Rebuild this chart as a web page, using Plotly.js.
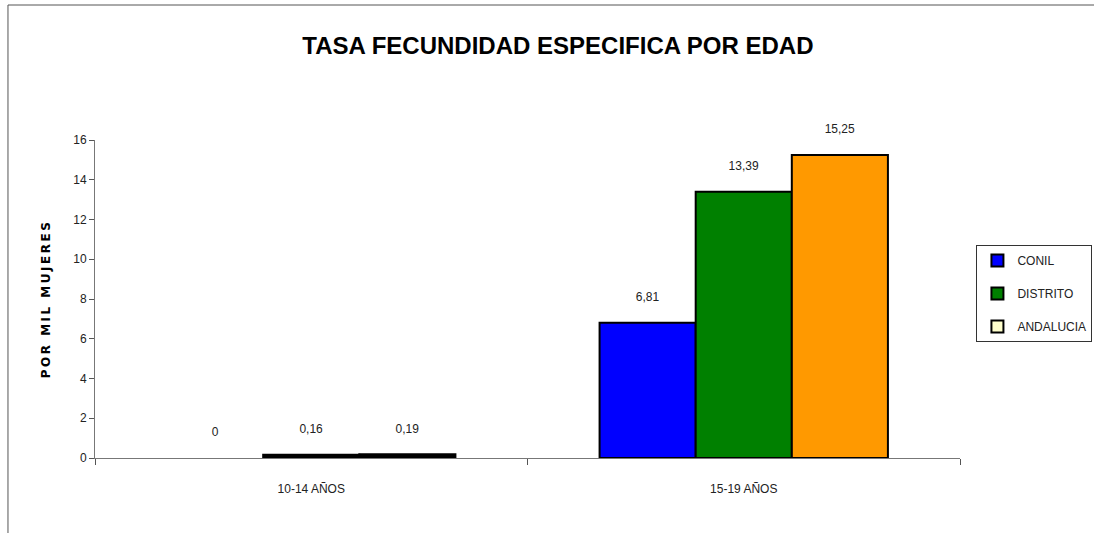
<!DOCTYPE html>
<html><head><meta charset="utf-8">
<script src="https://cdn.plot.ly/plotly-3.0.1.min.js"></script>
<style>html,body{margin:0;padding:0;background:#fff}#chart{width:1094px;height:533px}
.ytitle{letter-spacing:2.5px}</style>
</head><body><div id="chart"></div>
<script>
const categories = ["10-14 AÑOS", "15-19 AÑOS"];
const seriesNames = ["CONIL", "DISTRITO", "ANDALUCIA"];
const conil = [0, 6.81];
const distrito = [0.16, 13.39];
const andalucia = [0.19, 15.25];
const barColors = ["#0000FF", "#008000", "#FF9900"];
const legendColors = ["#0000FF", "#008000", "#FFFFCC"];
const yTicks = [0, 2, 4, 6, 8, 10, 12, 14, 16];

const values = [conil, distrito, andalucia];
const traces = [];
values.forEach((v, i) => {
  traces.push({
    type: "bar", x: categories, y: v, name: seriesNames[i],
    marker: {color: v.map(val => val < 1 ? "#000" : barColors[i]),
             line: {color: "#000", width: v.map(val => val === 0 ? 0 : 2)}},
    texttemplate: "%{y}<br> ", textposition: "outside", cliponaxis: false,
    textfont: {family: "Liberation Sans, Arial, sans-serif", size: 12, color: "#222"},
    showlegend: false, hoverinfo: "skip"
  });
});
// legend-only entries (reference legend swatches), on hidden axes
seriesNames.forEach((n, i) => {
  traces.push({
    type: "bar", x: [null], y: [null], name: n, legendgroup: n,
    xaxis: "x2", yaxis: "y2",
    marker: {color: legendColors[i], line: {color: "#000", width: 2}},
    showlegend: true, hoverinfo: "skip"
  });
});

const layout = {
  width: 1094, height: 533,
  margin: {l: 95, r: 134, t: 140, b: 75, autoexpand: false},
  paper_bgcolor: "#fff", plot_bgcolor: "#fff",
  separators: ",.",
  barmode: "group", bargap: 0.3333, bargroupgap: 0,
  font: {family: "Liberation Sans, Arial, sans-serif", size: 12, color: "#111"},
  title: {text: "<b>TASA FECUNDIDAD ESPECIFICA POR EDAD</b>", x: 0.51, xref: "container", xanchor: "center", y: 0.915, yanchor: "middle",
          font: {family: "Liberation Sans, Arial, sans-serif", size: 24, color: "#000"}},
  xaxis: {type: "category", showline: true, linecolor: "#777", linewidth: 1,
          ticks: "outside", tickson: "boundaries", ticklen: 6, tickcolor: "#555",
          ticklabelstandoff: 20, tickfont: {size: 12, color: "#222"}, showgrid: false, zeroline: false},
  yaxis: {range: [0, 16], tickvals: yTicks, ticktext: yTicks.map(String), showline: true, linecolor: "#777", linewidth: 1,
          ticks: "outside", ticklen: 5, tickcolor: "#555", showgrid: false, zeroline: false,
          tickfont: {size: 12, color: "#222"},
          title: {text: "<b>POR MIL MUJERES</b>", standoff: 20,
                  font: {family: "DejaVu Sans, sans-serif", size: 12, color: "#000"}}},
  xaxis2: {overlaying: "x", visible: false, range: [0, 1]},
  yaxis2: {overlaying: "y", visible: false, range: [0, 1]},
  legend: {x: 1.019, y: 0.67, xanchor: "left", yanchor: "top", bordercolor: "#333", borderwidth: 1,
           bgcolor: "#fff", traceorder: "grouped", tracegroupgap: 14, itemwidth: 30,
           font: {size: 12, color: "#222"}},
  shapes: [{type: "path", xref: "paper", yref: "paper",
            path: "M -0.1006 -0.24 L -0.1006 1.4245 L 1.155 1.4245",
            line: {color: "#555", width: 1}}]
};
Plotly.newPlot("chart", traces, layout, {displayModeBar: false, staticPlot: true});
</script></body></html>
